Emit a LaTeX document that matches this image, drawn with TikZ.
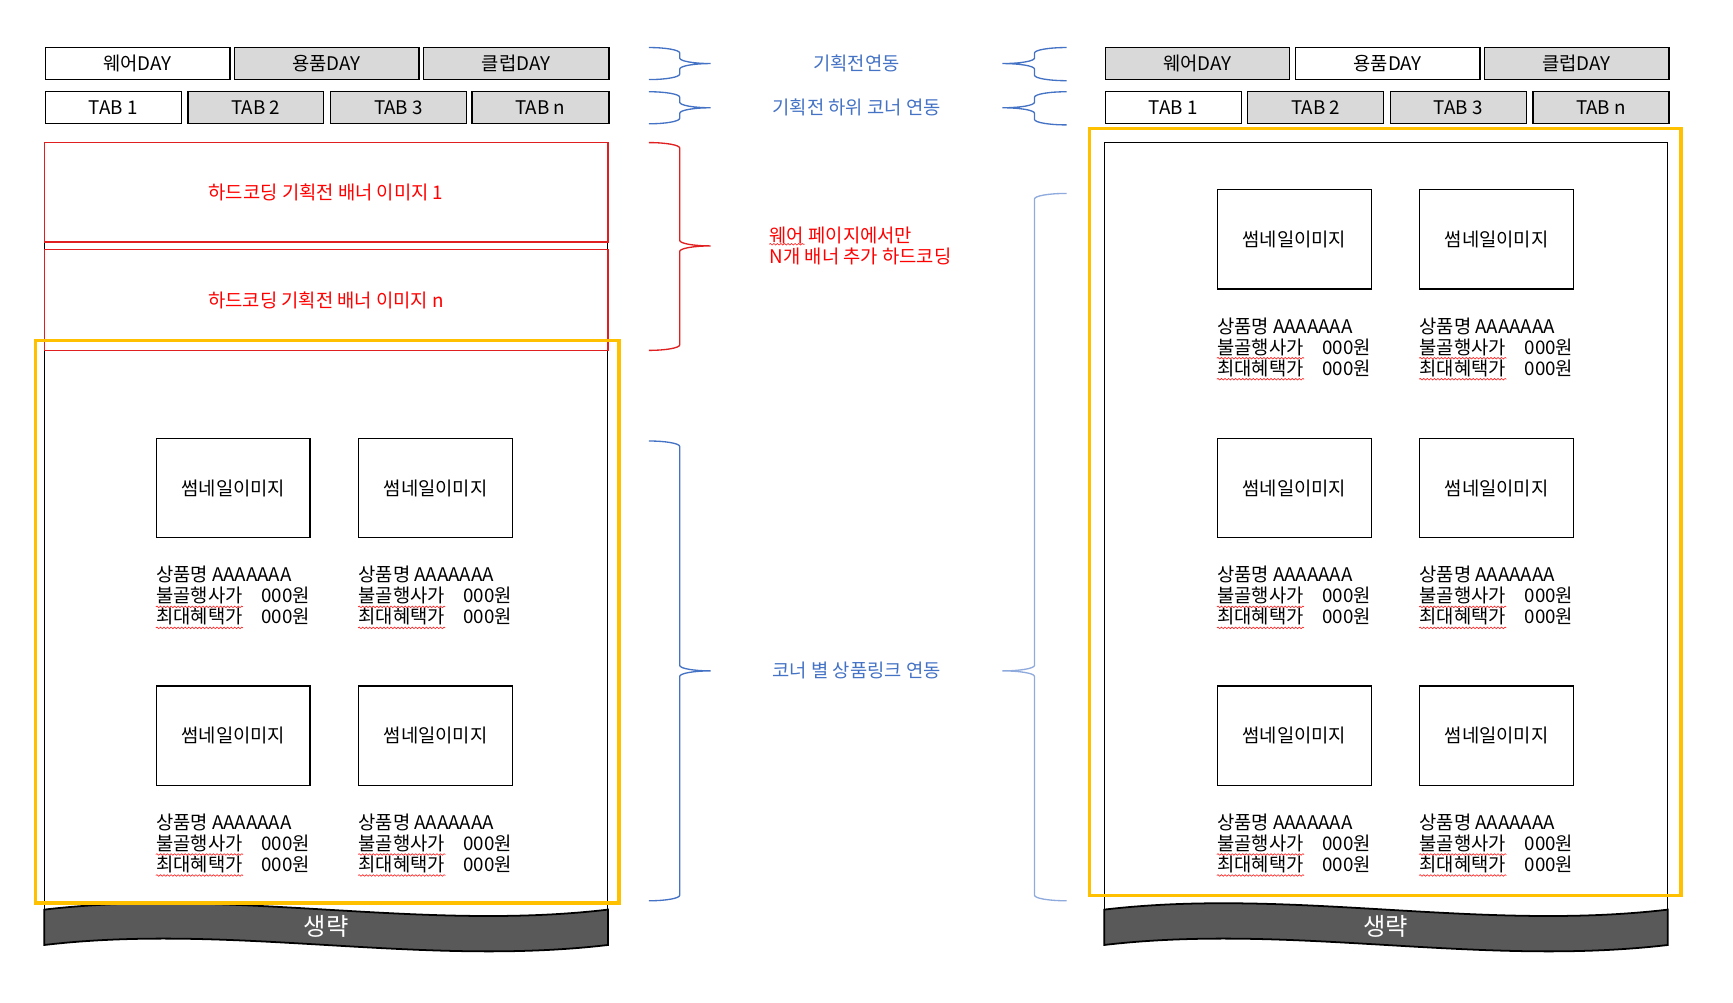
\documentclass[tikz,border=0pt]{standalone}
\usepackage{fontspec}
\setmainfont{Noto Sans CJK KR}
\usetikzlibrary{decorations.pathmorphing}
\definecolor{tabgray}{HTML}{D9D9D9}
\definecolor{ppyellow}{HTML}{FFC000}
\definecolor{ppblue}{HTML}{4472C4}
\definecolor{pplblue}{HTML}{8FAADC}
\definecolor{ppred}{HTML}{E02020}
\definecolor{txtred}{HTML}{FF0000}
\definecolor{wavegray}{HTML}{595959}

% brace: #1 style, #2 x of ends, #3 x of tip, #4 y top, #5 y bottom, #6 y tip
\newcommand\mybrace[6]{%
  \pgfmathsetmacro\brXv{(#2+#3)/2}%
  \pgfmathsetmacro\brKa{#2+0.55*(\brXv-#2)}%
  \pgfmathsetmacro\brKb{\brXv+0.45*(#3-\brXv)}%
  \draw[#1] (#2,#4) .. controls (\brKa,#4) and (\brXv,#4+2.2) .. (\brXv,#4+5)
    -- (\brXv,#6-5) .. controls (\brXv,#6-2.2) and (\brKb,#6) .. (#3,#6)
    .. controls (\brKb,#6) and (\brXv,#6+2.2) .. (\brXv,#6+5)
    -- (\brXv,#5-5) .. controls (\brXv,#5-2.2) and (\brKa,#5) .. (#2,#5);
}

% product block: #1 name prefix, #2 x, #3 y of thumbnail top
\newcommand\myproduct[3]{%
  \node[thumb, anchor=north west] (#1t) at (#2,#3) {썸네일이미지};
  \node[ptxt] (#1a) at (#2,#3+124) {상품명 AAAAAAA};
  \node[ptxt] (#1b) at (#2,#3+143) {불골행사가};
  \node[ptxt] (#1c) at (#2+95,#3+143) {000원};
  \node[ptxt] (#1d) at (#2,#3+162) {최대혜택가};
  \node[ptxt] (#1e) at (#2+95,#3+162) {000원};
  \draw[squig] ([yshift=-1pt]#1b.south west) -- ([yshift=-1pt]#1b.south east);
  \draw[squig] ([yshift=-1pt]#1d.south west) -- ([yshift=-1pt]#1d.south east);
}

% wave band: #1 name, #2 x left, #3 x right
\newcommand\mywave[3]{%
  \pgfmathsetmacro\wvA{#2+(#3-#2)/3}%
  \pgfmathsetmacro\wvB{#2+2*(#3-#2)/3}%
  \pgfmathsetmacro\wvC{(#2+#3)/2}%
  \draw[wavestyle] (#2,823) .. controls (\wvA,803) and (\wvB,843) .. (#3,823)
    -- (#3,855) .. controls (\wvB,875) and (\wvA,835) .. (#2,855) -- cycle;
  \node[text=white, font=\fontsize{11}{13}\selectfont] (#1) at (\wvC,838) {생략};
}

\begin{document}
\begin{tikzpicture}[x=0.5pt,y=-0.5pt,
  font=\fontsize{8.5}{9.5}\selectfont,
  daybox/.style={draw=black, line width=0.6pt, minimum height=14.5pt, inner sep=0pt, fill=white},
  gbox/.style={daybox, fill=tabgray},
  thumb/.style={draw=black, line width=0.6pt, minimum width=69.5pt, minimum height=45pt, inner sep=0pt},
  ptxt/.style={anchor=west, inner sep=0pt},
  frameline/.style={draw=black, line width=0.5pt},
  yel/.style={draw=ppyellow, line width=1.5pt},
  banner/.style={draw=ppred, line width=0.6pt, text=txtred, minimum width=255pt, inner sep=0pt},
  bluetxt/.style={text=ppblue},
  squig/.style={draw=red!85, line width=0.3pt, decorate, decoration={snake, amplitude=0.35pt, segment length=1.6pt}},
  wavestyle/.style={fill=wavegray, draw=black, line width=0.8pt},
  bbrace/.style={draw=ppblue, line width=0.6pt},
  lbrace/.style={draw=pplblue, line width=0.6pt},
  rbrace/.style={draw=ppred, line width=0.6pt}]
\useasboundingbox (0,0) rectangle (1568,907);

% ================= LEFT PANEL =================
\node[daybox, minimum width=83.5pt] (lday1) at (124.5,57.5) {웨어DAY};
\node[gbox, minimum width=83.5pt] (lday2) at (295.5,57.5) {용품DAY};
\node[gbox, minimum width=84pt] (lday3) at (467,57.5) {클럽DAY};
\node[daybox, minimum width=61.5pt] (ltab1) at (102.5,97.5) {TAB 1};
\node[gbox, minimum width=61.5pt] (ltab2) at (231.5,97.5) {TAB 2};
\node[gbox, minimum width=61.5pt] (ltab3) at (360.5,97.5) {TAB 3};
\node[gbox, minimum width=62pt] (ltabn) at (489,97.5) {TAB n};

\draw[frameline] (40,823) -- (40,129) -- (550,129) -- (550,823);
\node[banner, minimum height=45pt] (ban1) at (295,174) {하드코딩 기획전 배너 이미지 1};
\node[banner, minimum height=45.5pt] (bann) at (295,271.5) {하드코딩 기획전 배너 이미지 n};

\myproduct{lp1}{141}{396}
\myproduct{lp2}{324}{396}
\myproduct{lp3}{141}{620}
\myproduct{lp4}{324}{620}

\mywave{lwave}{40}{550}
\draw[yel] (32,308) rectangle (560,817);

% ================= RIGHT PANEL =================
\node[gbox, minimum width=83.5pt] (rday1) at (1083.5,57.5) {웨어DAY};
\node[daybox, minimum width=83.5pt] (rday2) at (1255.5,57.5) {용품DAY};
\node[gbox, minimum width=83.5pt] (rday3) at (1426.5,57.5) {클럽DAY};
\node[daybox, minimum width=61.5pt] (rtab1) at (1061.5,97.5) {TAB 1};
\node[gbox, minimum width=61.5pt] (rtab2) at (1190.5,97.5) {TAB 2};
\node[gbox, minimum width=61.5pt] (rtab3) at (1319.5,97.5) {TAB 3};
\node[gbox, minimum width=61.5pt] (rtabn) at (1448.5,97.5) {TAB n};

\draw[frameline] (999,823) -- (999,129) -- (1509,129) -- (1509,823);

\myproduct{rp1}{1101}{171}
\myproduct{rp2}{1284}{171}
\myproduct{rp3}{1101}{396}
\myproduct{rp4}{1284}{396}
\myproduct{rp5}{1101}{620}
\myproduct{rp6}{1284}{620}

\mywave{rwave}{999}{1509}
\draw[yel] (986,116) rectangle (1521,810);

% ================= MIDDLE =================
\mybrace{bbrace}{587}{643}{43}{72}{57.5}
\mybrace{bbrace}{587}{643}{83}{112}{97.5}
\mybrace{rbrace}{587}{643}{129}{317}{222.5}
\mybrace{bbrace}{587}{643}{399}{815}{607}
\mybrace{bbrace}{965}{907}{43}{73}{57.5}
\mybrace{bbrace}{965}{907}{83}{113}{97.5}
\mybrace{lbrace}{965}{907}{175}{815}{607}

\node[bluetxt] (t1) at (775,57.5) {기획전연동};
\node[bluetxt] (t2) at (775,97.5) {기획전 하위 코너 연동};
\node[text=txtred, anchor=west, align=left, inner sep=0pt] (t3) at (696,222.5) {웨어 페이지에서만\\N개 배너 추가 하드코딩};
\draw[squig] (696,221) -- (728,221);
\node[bluetxt] (t4) at (775,607) {코너 별 상품링크 연동};
\end{tikzpicture}
\end{document}
